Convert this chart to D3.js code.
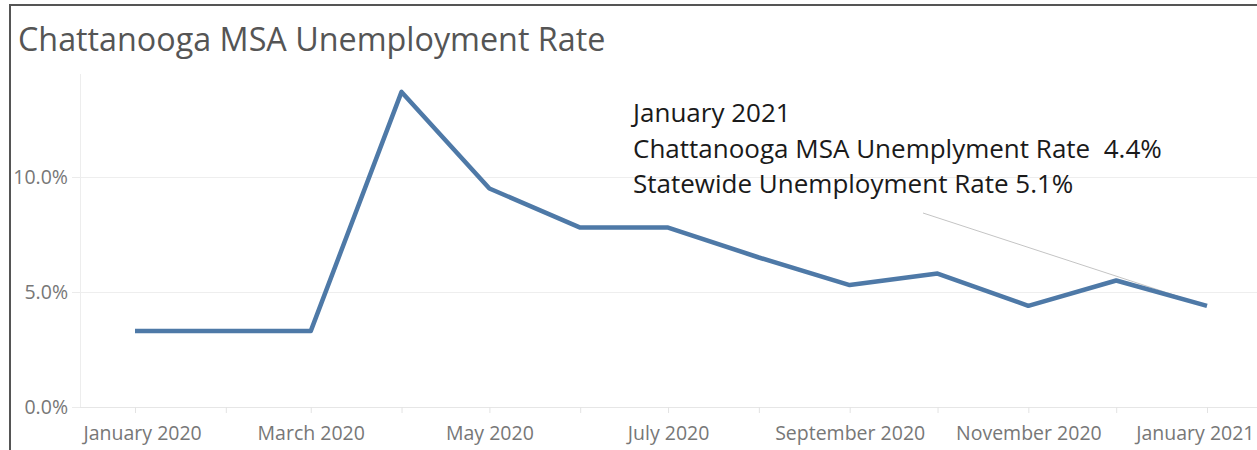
<!DOCTYPE html>
<html><head><meta charset="utf-8">
<script src="https://cdn.jsdelivr.net/npm/d3@7"></script>
<style>
html,body{margin:0;padding:0;background:#fff;}
svg{display:block;}
</style></head>
<body>
<svg id="chart" width="1257" height="450"></svg>
<script>
const title = "Chattanooga MSA Unemployment Rate";
const months = ["2020-01","2020-02","2020-03","2020-04","2020-05","2020-06","2020-07","2020-08","2020-09","2020-10","2020-11","2020-12","2021-01"];
const rates = [3.3,3.3,3.3,13.7,9.5,7.8,7.8,6.5,5.3,5.8,4.4,5.5,4.4];
const yTicks = [0,5,10];
const xTickLabels = ["January 2020","March 2020","May 2020","July 2020","September 2020","November 2020","January 2021"];
const annotationLines = ["January 2021","Chattanooga MSA Unemplyment Rate  4.4%","Statewide Unemployment Rate 5.1%"];

const parse = d3.timeParse("%Y-%m");
const data = months.map((m,i)=>({date:parse(m), v:rates[i]}));
const svg = d3.select("#chart");
const FONT = "'Open Sans', 'Noto Sans', sans-serif";

const x = d3.scaleTime().domain([parse("2020-01"), parse("2021-01")]).range([135,1207]);
const y = d3.scaleLinear().domain([0,10]).range([407,177]);

// frame
svg.append("line").attr("x1",9).attr("x2",1257).attr("y1",5).attr("y2",5).attr("stroke","#555").attr("stroke-width",2);
svg.append("line").attr("x1",10).attr("x2",10).attr("y1",4).attr("y2",450).attr("stroke","#555").attr("stroke-width",2);

// title
svg.append("text").attr("x",18).attr("y",51).text(title)
  .attr("font-family",FONT).attr("font-size",32.3).attr("fill","#555");

// y axis + gridlines
const yAxis = d3.axisLeft(y).tickValues(yTicks).tickSize(8).tickPadding(4).tickFormat(d=>d3.format(".1f")(d)+"%");
const gy = svg.append("g").attr("transform","translate(80,0)").call(yAxis);
gy.select(".domain").remove();
gy.selectAll(".tick line").attr("stroke","#ebebeb");
gy.selectAll(".tick text").attr("font-family",FONT).attr("font-size",19.5).attr("fill","#777");
svg.append("g").selectAll("line").data(yTicks).join("line")
  .attr("x1",80).attr("x2",1257).attr("y1",d=>y(d)+0.5).attr("y2",d=>y(d)+0.5)
  .attr("stroke",d=>d===0?"#e6e6e6":"#eeeeee");
svg.append("line").attr("x1",80.5).attr("x2",80.5).attr("y1",74).attr("y2",407).attr("stroke","#ededed");

// x axis
const xAxis = d3.axisBottom(x).ticks(d3.timeMonth.every(1)).tickSize(6).tickPadding(13)
  .tickFormat((d,i)=> i%2===0 ? xTickLabels[i/2] : "");
const gx = svg.append("g").attr("transform","translate(0,407)").call(xAxis);
gx.select(".domain").remove();
gx.selectAll(".tick line").attr("stroke","#e3e3e3");
gx.selectAll(".tick text").attr("font-family",FONT).attr("font-size",19.5).attr("fill","#777");
// keep edge labels inside the view
const ticksSel = gx.selectAll(".tick text").nodes();
d3.select(ticksSel[0]).attr("text-anchor","start").attr("x",83 - x(parse(months[0])));
d3.select(ticksSel[ticksSel.length-1]).attr("text-anchor","end").attr("x",1254 - x(parse(months[months.length-1])));

// annotation leader
const last = data[data.length-1];
svg.append("line").attr("x1",923).attr("y1",213).attr("x2",x(last.date)).attr("y2",y(last.v))
  .attr("stroke","#c4c4c4").attr("stroke-width",1);

// line
const line = d3.line().x(d=>x(d.date)).y(d=>y(d.v));
svg.append("path").datum(data).attr("d",line).attr("fill","none")
  .attr("stroke","#4e79a7").attr("stroke-width",4.5).attr("stroke-linejoin","round");

// annotation text
svg.append("g").selectAll("text").data(annotationLines).join("text")
  .attr("x",633).attr("y",(d,i)=>122+i*35.5).text(d=>d).attr("xml:space","preserve")
  .style("white-space","pre")
  .attr("font-family",FONT).attr("font-size",26).attr("fill","#1a1a1a");
</script>
</body></html>
